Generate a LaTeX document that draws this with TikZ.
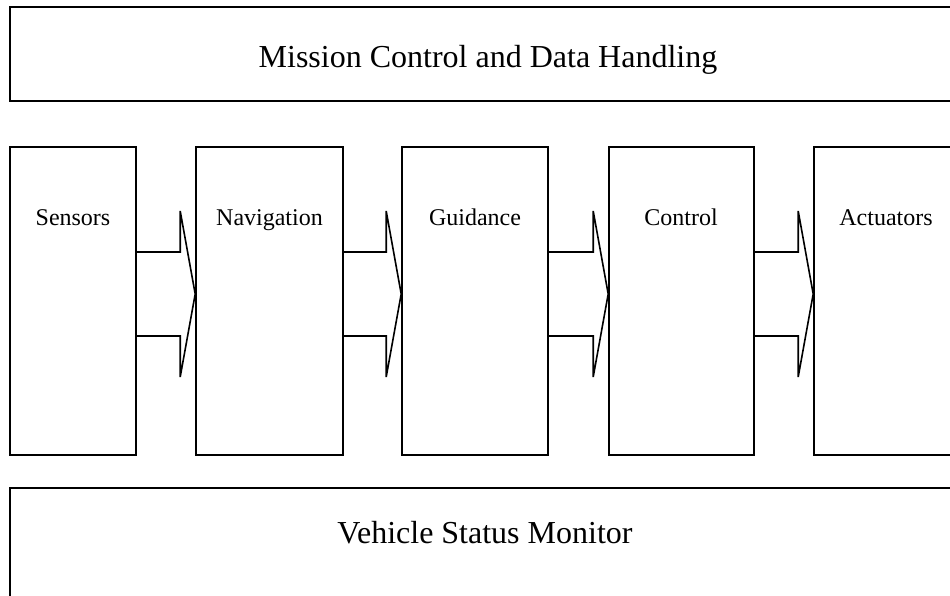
\documentclass[tikz,border=0pt]{standalone}
\usepackage{fontspec}
\setmainfont{Liberation Serif}
\usetikzlibrary{fit,calc}

\tikzset{
  block/.style={draw, line width=1.2pt, inner sep=0pt, rectangle},
  biglabel/.style={anchor=base, font=\fontsize{24pt}{28pt}\selectfont, inner sep=0pt},
  smalllabel/.style={anchor=base, font=\fontsize{18pt}{21pt}\selectfont, inner sep=0pt},
  flowarrow/.style={draw, line width=1.2pt, line join=miter}
}

% block arrow from the right side of #1 to the left side of #2
\newcommand{\blockarrow}[2]{%
  \path[flowarrow]
    (#1.east |- stemtop) -- ($(#2.west |- stemtop)+(-15,0)$)
    -- ($(#2.west |- barbtop)+(-15,0)$)
    -- (#2.west |- tip)
    -- ($(#2.west |- barbbot)+(-15,0)$)
    -- ($(#2.west |- stembot)+(-15,0)$)
    -- (#1.east |- stembot);
}

\begin{document}
\begin{tikzpicture}[x=0.75pt, y=-0.75pt]
  \useasboundingbox (0,0) rectangle (950,596);
  \clip (0,0) rectangle (950,596);
  \fill[white] (0,0) rectangle (950,596);

  % levels of the block arrows
  \coordinate (barbtop) at (0,211);
  \coordinate (stemtop) at (0,252);
  \coordinate (tip)     at (0,294);
  \coordinate (stembot) at (0,336);
  \coordinate (barbbot) at (0,377);

  % outer bands
  \node[block, fit={(10,7) (965,101)}] (mission) {};
  \node[block, fit={(10,488) (965,615)}] (monitor) {};

  % processing chain
  \node[block, fit={(10,147) (136,455)}]  (sensors) {};
  \node[block, fit={(196,147) (343,455)}] (navigation) {};
  \node[block, fit={(402,147) (548,455)}] (guidance) {};
  \node[block, fit={(609,147) (754,455)}] (control) {};
  \node[block, fit={(814,147) (965,455)}] (actuators) {};

  % labels
  \node[biglabel] (missiontext) at (488,67) {Mission Control and Data Handling};
  \node[biglabel] (monitortext) at (485,543) {Vehicle Status Monitor};
  \node[smalllabel] (sensorstext)    at (73,225)  {Sensors};
  \node[smalllabel] (navigationtext) at (269.5,225) {Navigation};
  \node[smalllabel] (guidancetext)   at (475,225) {Guidance};
  \node[smalllabel] (controltext)    at (681,225) {Control};
  \node[smalllabel] (actuatorstext)  at (886,225) {Actuators};

  % data flow
  \blockarrow{sensors}{navigation}
  \blockarrow{navigation}{guidance}
  \blockarrow{guidance}{control}
  \blockarrow{control}{actuators}
\end{tikzpicture}
\end{document}
